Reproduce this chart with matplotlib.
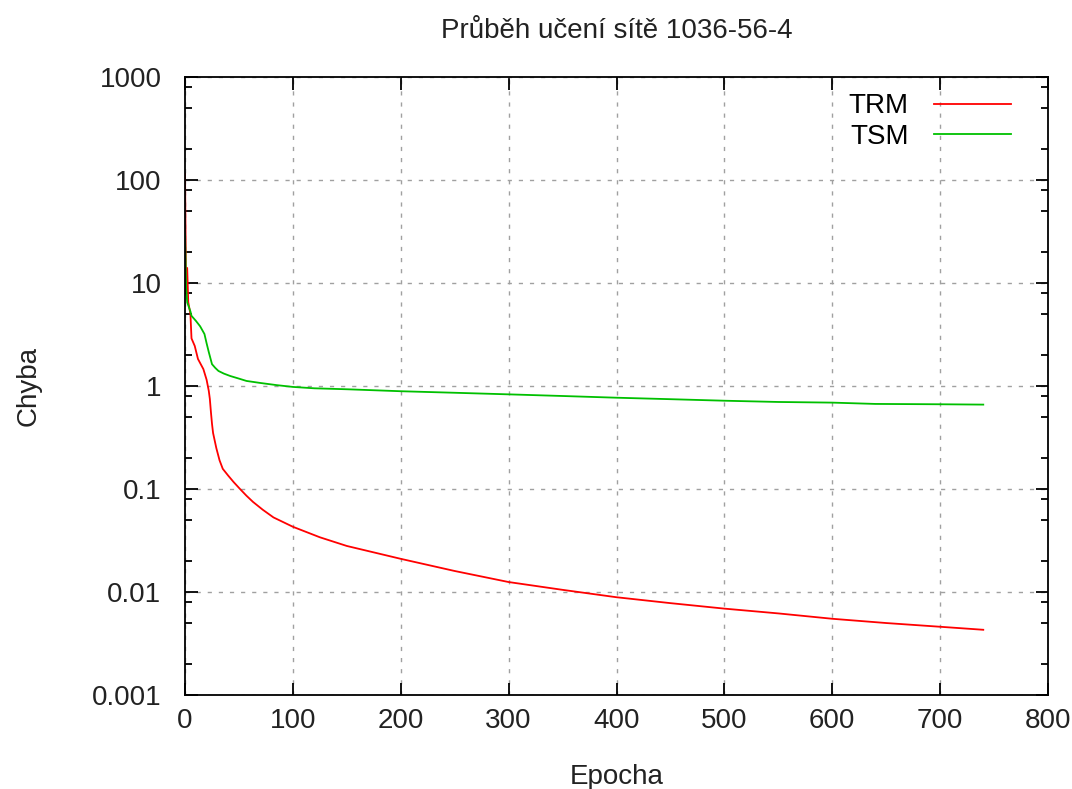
import matplotlib
matplotlib.use("Agg")
import matplotlib.pyplot as plt
from matplotlib.ticker import LogLocator, MultipleLocator, NullFormatter, FixedLocator

plt.rcParams['font.family'] = ['Liberation Sans', 'DejaVu Sans']

# TRM (red) - chyba na trenovaci mnozine
trm_epochs = [0, 1, 2, 3, 5, 6, 9, 12, 17, 20, 22, 23, 24, 25, 26, 29, 32, 35, 40, 45,
              51, 57, 63, 72, 82, 100, 125, 150, 200, 250, 300, 350, 400,
              450, 500, 550, 600, 650, 700, 740]
trm_values = [115, 8, 14, 6.5, 5.0, 2.9, 2.45, 1.83, 1.46, 1.15, 0.9, 0.75, 0.56,
              0.43, 0.35, 0.25, 0.19, 0.157, 0.135, 0.117, 0.1, 0.086, 0.075, 0.063,
              0.053, 0.043, 0.034, 0.028, 0.021, 0.016, 0.0125, 0.0105, 0.0089,
              0.0078, 0.0069, 0.0062, 0.0055, 0.0050, 0.0046, 0.0043]

# TSM (green) - chyba na testovaci mnozine
tsm_epochs = [0, 1, 2, 5, 6, 10, 14, 18, 20, 22, 25, 28, 31, 36, 42, 50, 57, 70,
              85, 100, 120, 150, 200, 250, 300, 350, 400, 450, 500, 550, 600,
              640, 700, 740]
tsm_values = [30, 9, 6.5, 5.3, 4.8, 4.3, 3.8, 3.2, 2.6, 2.14, 1.63, 1.5, 1.4, 1.32,
              1.25, 1.18, 1.12, 1.07, 1.02, 0.98, 0.95, 0.93, 0.89, 0.86, 0.83,
              0.80, 0.77, 0.745, 0.72, 0.70, 0.69, 0.67, 0.665, 0.66]

fig = plt.figure(figsize=(10.72, 7.89), dpi=100)
ax = fig.add_axes([0.1726, 0.1191, 0.805, 0.7833])

ax.plot(trm_epochs, trm_values, color='#ff0000', lw=1.3, label='TRM')
ax.plot(tsm_epochs, tsm_values, color='#00c000', lw=1.3, label='TSM')

ax.set_yscale('log')
ax.set_xlim(0, 800)
ax.set_ylim(0.001, 1000)
ax.xaxis.set_major_locator(MultipleLocator(100))
ax.yaxis.set_major_locator(FixedLocator([0.001, 0.01, 0.1, 1, 10, 100, 1000]))
ax.yaxis.set_minor_locator(LogLocator(base=10, subs=[2, 5, 8]))
ax.yaxis.set_minor_formatter(NullFormatter())
ax.set_yticklabels(['0.001', '0.01', '0.1', '1', '10', '100', '1000'])

ax.grid(True, which='major', color='#a0a0a0', linestyle=(0, (3, 5)), lw=1)
ax.tick_params(which='both', direction='in', top=True, right=True, labelsize=20,
               color='black', labelcolor='#222222')
ax.tick_params(axis='x', pad=9)
ax.tick_params(axis='y', pad=17)
ax.tick_params(which='major', length=9, width=1.3)
ax.tick_params(which='minor', length=5, width=1.3)
for s in ax.spines.values():
    s.set_linewidth(1.3)

ax.set_title('Průběh učení sítě 1036-56-4', fontsize=20, pad=28, color='#222222')
ax.set_xlabel('Epocha', fontsize=20, labelpad=22, color='#222222')
ax.set_ylabel('Chyba', fontsize=20, labelpad=36, color='#222222')

ax.legend(loc='upper right', frameon=False, markerfirst=False, fontsize=20,
          handlelength=2.8, handletextpad=0.9, labelspacing=0.15,
          borderaxespad=0.3, bbox_to_anchor=(0.98, 1.005))

fig.savefig('out.png', dpi=100)
